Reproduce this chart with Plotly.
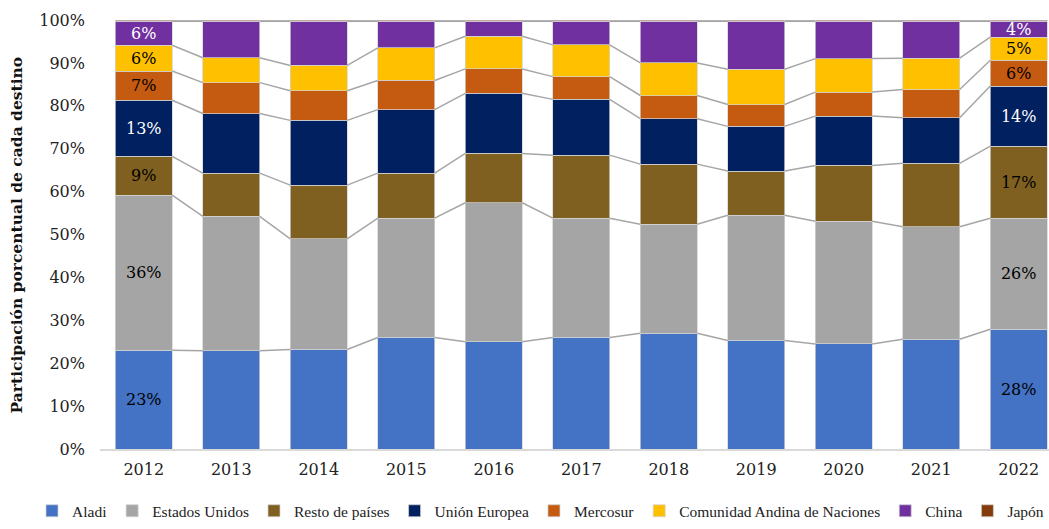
import plotly.graph_objects as go

years = ["2012", "2013", "2014", "2015", "2016", "2017", "2018", "2019", "2020", "2021", "2022"]

aladi = [23.0, 22.9, 23.2, 26.0, 25.0, 26.0, 27.0, 25.3, 24.5, 25.6, 27.9]
estados_unidos = [36.2, 31.3, 25.8, 27.8, 32.4, 27.8, 25.4, 29.2, 28.6, 26.2, 25.9]
resto_paises = [9.0, 10.1, 12.5, 10.5, 11.5, 14.7, 14.0, 10.3, 13.0, 14.8, 16.8]
union_europea = [13.1, 13.9, 15.1, 14.8, 14.0, 13.0, 10.6, 10.4, 11.5, 10.6, 14.0]
mercosur = [6.8, 7.2, 6.9, 6.8, 5.7, 5.3, 5.4, 5.1, 5.6, 6.6, 6.0]
comunidad_andina = [6.0, 5.8, 5.9, 7.6, 7.6, 7.4, 7.6, 8.2, 7.8, 7.3, 5.4]
china = [5.6, 8.5, 10.3, 6.2, 3.5, 5.5, 9.7, 11.2, 8.7, 8.6, 3.7]
japon = [0.3, 0.3, 0.3, 0.3, 0.3, 0.3, 0.3, 0.3, 0.3, 0.3, 0.3]

series = [
    ("Aladi", aladi, "#4472C4", "black"),
    ("Estados Unidos", estados_unidos, "#A5A5A5", "black"),
    ("Resto de países", resto_paises, "#7F6020", "black"),
    ("Unión Europea", union_europea, "#002060", "white"),
    ("Mercosur", mercosur, "#C55A11", "black"),
    ("Comunidad Andina de Naciones", comunidad_andina, "#FFC000", "black"),
    ("China", china, "#7030A0", "white"),
    ("Japón", japon, "#843C0C", "white"),
]
labeled_years = ["2012", "2022"]

FONT = "DejaVu Serif"
LEGEND_FONT = "Liberation Serif"
x = list(range(len(years)))
bar_width = 0.65
totals = [sum(s[1][i] for s in series) for i in x]

fig = go.Figure()
for name, vals, color, tcolor in series:
    texts = []
    for i, v in enumerate(vals):
        pct = v / totals[i] * 100
        if years[i] in labeled_years and name != "Japón":
            texts.append(f"{round(pct)}%")
        else:
            texts.append("")
    fig.add_trace(go.Bar(
        x=x, y=vals, name=name, width=bar_width,
        marker=dict(color=color, line=dict(color="rgba(210,210,210,0.9)", width=0.8)),
        text=texts, textposition="inside", insidetextanchor="middle",
        constraintext="none", textangle=0,
        textfont=dict(family=FONT, size=16, color=tcolor),
        hoverinfo="name+y",
    ))

# series (connector) lines between adjacent bars
cum = [0.0] * len(years)
for k, (name, vals, color, tcolor) in enumerate(series):
    cum = [cum[i] + vals[i] / totals[i] * 100 for i in x]
    lx, ly = [], []
    for i in range(len(years) - 1):
        lx += [x[i] + bar_width / 2, x[i + 1] - bar_width / 2, None]
        ly += [cum[i], cum[i + 1], None]
    fig.add_trace(go.Scatter(
        x=lx, y=ly, mode="lines", showlegend=False, hoverinfo="skip",
        line=dict(color="#A6A6A6", width=1.5),
    ))

fig.add_annotation(
    text="<b>Participación porcentual de cada destino</b>",
    xref="paper", yref="paper", x=-0.0875, y=0.5,
    xanchor="center", yanchor="middle", textangle=-90, showarrow=False,
    font=dict(family=FONT, size=15.5, color="#111111"),
)

fig.update_layout(
    barmode="stack", barnorm="percent",
    width=1049, height=529,
    margin=dict(l=100, r=0, t=20, b=80),
    plot_bgcolor="white", paper_bgcolor="white",
    font=dict(family=FONT, size=16, color="#222222"),
    showlegend=True,
    legend=dict(
        orientation="h", xref="paper", yref="paper",
        x=-0.06, xanchor="left", y=-0.145, yanchor="middle",
        font=dict(family=LEGEND_FONT, size=15.5, color="#222222"),
        traceorder="normal", itemwidth=30,
    ),
    xaxis=dict(
        tickmode="array", tickvals=x, ticktext=years,
        range=[-0.5, 10.346], showgrid=False, zeroline=False,
        showline=True, linecolor="#D9D9D9", linewidth=1.5,
        ticks="", ticklabelstandoff=5,
        tickfont=dict(family=FONT, size=16, color="#222222"),
        automargin=False,
    ),
    yaxis=dict(
        range=[0, 100], tickvals=list(range(0, 101, 10)),
        ticktext=[f"{v}%" for v in range(0, 101, 10)],
        showgrid=False, zeroline=False, showline=False, ticks="",
        ticklabelstandoff=14,
        tickfont=dict(family=FONT, size=16, color="#222222"),
        automargin=False,
    ),
)

fig.write_html("out.html", config={"displayModeBar": False},
               post_script="document.body.style.margin='0';")
